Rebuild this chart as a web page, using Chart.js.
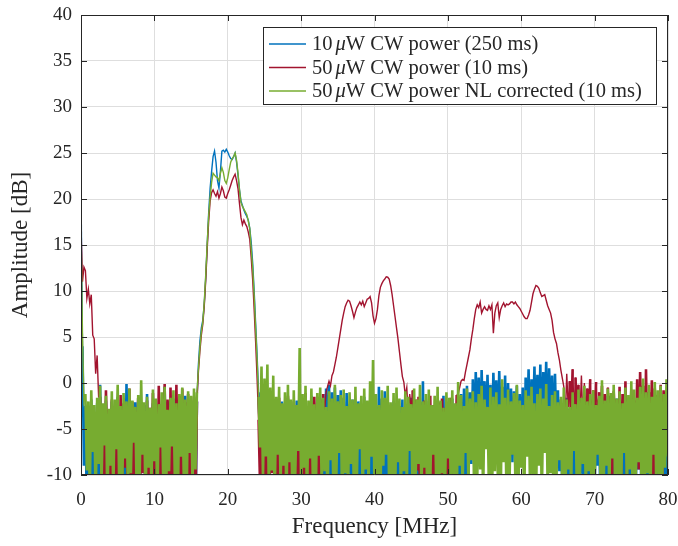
<!DOCTYPE html>
<html>
<head>
<meta charset="utf-8">
<title>Amplitude spectrum</title>
<script src="https://cdn.jsdelivr.net/npm/chart.js@4.4.1/dist/chart.umd.min.js"></script>
<style>
  html, body { margin: 0; padding: 0; background: #fff; }
  #wrap { width: 678px; height: 546px; }
</style>
</head>
<body>
<div id="wrap"><canvas id="spectrum" width="678" height="546"></canvas></div>
<script>
const STEP = 0.2; // MHz between samples

const xTicks = [0, 10, 20, 30, 40, 50, 60, 70, 80];
const yTicks = [-10, -5, 0, 5, 10, 15, 20, 25, 30, 35, 40];

const labels = [
  "10 μW CW power (250 ms)",
  "50 μW CW power (10 ms)",
  "50 μW CW power NL corrected (10 ms)"
];
const colors = ["#0072BD", "#A2142F", "#77AC30"];

// 10 uW, 250 ms
const blueStart = [21.2, 4.0, -9.0]; // 0.0 - 0.4
const blueNoiseA = [ // 0.6 - 15.8
  -2.5, -14.0, -3.0, -10.5, -1.8, -15.0, -3.2, -9.0, -2.2, -13.5,
  -0.2, -8.5, -2.8, -14.5, -1.9, -11.0, -3.4, -12.5, -2.0, -9.8,
  -2.6, -15.0, -1.5, -10.0, -3.1, -13.0, -2.3, -14.8, -0.1, -9.2,
  -2.7, -12.0, -3.5, -15.0, -2.1, -10.8, -1.6, -13.8, -2.9, -8.8,
  -2.4, -14.2, -1.2, -11.5, -3.0, -9.5, -2.2, -15.0, -1.8, -12.2,
  -3.3, -10.2, -2.5, -13.2, -0.4, -14.0, -2.0, -9.0, -3.1, -11.8,
  -1.7, -15.0, -2.6, -10.6, -2.1, -12.8, -3.0, -14.4, -1.4, -9.6,
  -2.3, -13.6, -2.8, -11.2, -1.9, -15.0, -2.0
];
const bluePeak = [ // 16.0 - 24.4
  2.0, 4.5, 6.0, 6.8, 8.6, 11.5, 15.0, 18.5, 21.2, 23.0,
  24.6, 25.2, 24.0, 22.0, 21.2, 23.0, 25.2, 25.3, 25.1, 25.4,
  25.1, 24.7, 24.4, 24.3, 24.6, 25.0, 24.0, 22.6, 21.0, 19.8,
  19.3, 18.8, 18.4, 18.1, 17.7, 16.8, 15.3, 13.0, 10.0, 6.5,
  3.0, -1.0, -6.0
];
const blueNoiseB = [ // 24.6 - 80.0
  -1.5, -13.0, -2.6, -10.0, -0.8, -14.5, -2.2, -9.5, -3.0, -12.5,
  -1.8, -15.0, -2.8, -11.0, -2.0, -13.8, -3.2, -10.5, -1.6, -14.0,
  -2.5, -9.0, -3.0, -12.8, -1.9, -15.0, -2.4, -10.8, -3.1, -13.2,
  -2.1, -9.8, -2.9, -14.6, -1.4, -11.6, -2.6, -15.0, -2.0, -10.2,
  -3.0, -12.6, -1.2, -14.2, -0.6, -9.4, -0.2, -13.6, -1.0, -11.2,
  -0.5, -15.0, -1.3, -10.6, -0.8, -12.4, -1.6, -14.8, -1.1, -9.8,
  -2.3, -13.4, -1.8, -11.8, -2.7, -15.0, -2.0, -10.0, -2.9, -12.2,
  -1.5, -14.4, -2.4, -9.6, -3.2, -13.0, -1.9, -15.0, -2.6, -11.4,
  -0.4, -12.0, -1.7, -14.0, -0.9, -10.4, -2.2, -13.8, -2.8, -9.2,
  -2.0, -15.0, -3.1, -11.6, -2.5, -12.8, -1.8, -14.6, -2.6, -10.8,
  -3.0, -13.2, -1.6, -9.8, -2.3, -15.0, -2.9, -12.4, -2.1, -11.0,
  0.2, -14.2, -2.7, -10.2, -1.9, -13.6, -3.0, -9.4, -2.4, -15.0,
  -2.0, -11.8, -2.8, -12.6, -1.4, -14.8, -2.5, -10.6, -3.2, -13.0,
  -1.7, -9.6, -2.6, -15.0, -2.2, -11.2, -1.2, -12.2, -0.6, -14.4,
  -0.3, -10.0, -1.0, -8.8, 0.4, -6.5, 1.2, -5.2, 0.6, -7.8,
  1.4, -4.8, 0.2, -6.8, 0.9, -5.6, -0.2, -8.2, 1.1, -4.4,
  0.3, -7.2, 1.3, -5.0, -0.4, -6.2, 0.8, -9.0, 0.0, -5.8,
  -0.6, -8.6, -0.9, -6.0, -0.3, -10.2, -1.2, -7.4, -0.5, -9.4,
  0.6, -5.4, 1.5, -7.0, 0.4, -4.6, 1.8, -6.6, 0.9, -5.2,
  2.0, -7.6, 1.2, -4.2, 2.3, -6.4, 1.6, -5.0, 0.8, -8.0,
  1.0, -6.2, -0.8, -9.6, -1.8, -12.4, -2.4, -14.0, -1.6, -10.8,
  -2.8, -13.4, -2.2, -11.4, -3.0, -15.0, -1.9, -9.8, -2.6, -12.8,
  -1.5, -14.6, -2.7, -10.4, -2.0, -13.0, -3.1, -11.8, -2.3, -9.0,
  -1.8, -15.0, -2.6, -12.0, -2.9, -10.6, -1.4, -14.2, -2.2, -13.6,
  -2.8, -9.6, -1.7, -12.6, -2.4, -15.0, -3.0, -11.0, -2.0, -13.8,
  -2.5, -10.2, -1.6, -14.4, -2.9, -12.2, -2.1, -9.4, -1.3, -15.0,
  -2.6, -11.6, -2.0, -13.2, -2.8, -10.0, -1.5, -14.8, -2.4, -12.4,
  -1.9, -9.8, -2.7, -13.6, -2.2, -11.2, -1.0, -14.0
];

// 50 uW, 10 ms
const redStart = [17.0, 11.0, 12.6, 12.2, 9.2, 10.2, 8.6, 9.6, 5.2, 4.8, 1.0, 3.0, -1.5]; // 0.0 - 2.4
const redNoiseA = [ // 2.6 - 15.8
  -1.5, -11.0, -2.4, -14.5, -0.8, -9.5, -2.9, -13.0, -1.8, -15.0,
  -2.6, -10.5, -3.2, -12.5, -1.3, -14.0, -2.2, -9.2, -2.8, -15.0,
  -0.6, -11.8, -2.0, -13.5, -3.0, -10.2, -1.6, -14.8, -2.5, -9.8,
  -3.3, -12.8, -1.9, -15.0, -2.7, -11.2, -1.1, -13.8, -2.3, -10.8,
  -0.3, -14.2, -2.6, -9.4, -0.1, -12.0, -1.8, -15.0, -0.5, -11.5,
  -2.4, -13.2, -0.2, -10.0, -1.4, -14.6, -0.6, -12.4, -2.1, -9.6,
  -1.2, -15.0, -2.5, -11.6, -1.5, -13.4, -2.0
];
const redPeak = [ // 16.0 - 24.4
  1.2, 3.4, 5.2, 6.4, 8.4, 11.2, 14.6, 17.6, 19.8, 20.7,
  21.0, 20.6, 20.3, 20.8, 20.1, 20.6, 21.3, 20.9, 20.2, 20.1,
  20.6, 21.0, 21.5, 22.0, 22.4, 22.7, 22.0, 21.1, 19.5, 18.0,
  17.2, 17.7, 17.3, 17.0, 16.4, 15.6, 13.6, 11.2, 8.0, 4.5,
  0.5, -4.0, -11.0
];
const redNoiseB = [ // 24.6 - 33.2
  -2.2, -14.0, -1.8, -11.5, -2.8, -15.0, -1.2, -9.8, -2.5, -12.6,
  -3.0, -13.8, -1.6, -10.4, -2.3, -15.0, -2.9, -11.8, -1.4, -14.2,
  -2.6, -9.6, -2.0, -13.0, -3.1, -12.2, -1.9, -15.0, -2.4, -10.8,
  -1.1, -14.6, -2.7, -11.0, -2.0, -13.4, -1.5, -9.2, -2.2, -12.0,
  -1.8, -10.6, -1.2, -3.0
];
const redHump1 = [ // 33.4 - 44.2
  -1.0, -0.4, 0.2, -0.3, 0.8, 1.2, 2.0, 2.8, 3.8, 4.8,
  5.8, 6.8, 7.6, 8.3, 8.7, 9.0, 8.9, 8.4, 7.8, 7.1,
  7.7, 8.2, 8.5, 8.8, 8.5, 8.9, 8.3, 8.7, 9.1, 9.2,
  9.4, 8.7, 7.3, 6.5, 7.0, 8.0, 9.5, 10.4, 10.8, 11.1,
  11.3, 11.55, 11.5, 11.3, 10.6, 9.6, 8.4, 7.2, 6.0, 4.8,
  3.4, 2.0, 0.7, 0.1, -1.4
];
const redNoiseC = [ // 44.4 - 51.4
  -0.5, -3.5, -1.2, -2.8, -0.8, -4.2, -1.8, -9.5, -1.5, -12.0,
  -2.6, -14.5, -1.9, -10.8, -2.8, -13.2, -1.4, -15.0, -2.4, -11.4,
  -3.0, -9.8, -2.1, -14.0, -1.7, -12.6, -2.7, -10.2, -2.2, -13.8,
  -1.6, -11.0, -2.9, -9.4, -1.3, -1.2
];
const redHump2 = [ // 51.6 - 65.6
  -0.5, 0.2, 0.4, 0.3, 1.2, 2.0, 2.8, 3.6, 4.8, 5.8,
  7.0, 8.0, 8.5, 8.2, 8.8, 7.6, 8.0, 8.3, 8.0, 7.9,
  8.4, 8.0, 8.5, 5.4, 7.6, 8.4, 8.7, 7.1, 8.0, 8.4,
  8.7, 8.3, 8.6, 8.5, 8.6, 8.8, 8.8, 8.6, 8.8, 8.5,
  8.3, 8.1, 7.8, 7.5, 7.2, 7.0, 7.0, 7.4, 7.9, 8.8,
  9.7, 10.2, 10.6, 10.5, 10.3, 9.8, 9.4, 9.5, 9.6, 9.0,
  8.4, 8.0, 7.6, 6.8, 5.5, 4.8, 4.3, 3.3, 2.5, 1.4,
  0.5
];
const redNoiseD = [ // 65.8 - 80.0
  -0.4, -3.8, 1.0, -2.6, 0.2, -4.4, 1.5, -3.0, 0.6, -5.2,
  -0.2, -3.4, 0.8, -4.0, 0.0, -2.8, -0.6, -4.8, 0.4, -3.6,
  -0.8, -5.6, 0.1, -3.2, -1.0, -4.6, -0.3, -9.0, -1.2, -3.8,
  -0.5, -6.4, -1.4, -11.0, -0.9, -5.0, -1.8, -8.6, -0.4, -12.4,
  -1.2, -7.0, 0.2, -10.2, -1.6, -5.8, -0.7, -13.0, -1.9, -6.6,
  0.4, -9.4, 1.2, -4.8, -0.3, -11.6, 1.5, -7.6, -1.0, -5.4,
  0.3, -12.0, -0.6, -6.2, -1.3, -9.8, -0.2, -14.0, -0.8, -5.0,
  -1.1, -7.2
];

// 50 uW, NL corrected, 10 ms
const greenStart = [16.6, 5.5, -2.0]; // 0.0 - 0.4
const greenNoiseA = [ // 0.6 - 15.8
  -1.2, -9.5, -2.0, -12.0, -0.8, -7.5, -2.4, -13.0, -1.6, -8.8,
  -0.3, -11.2, -2.2, -6.8, -1.4, -14.0, -2.8, -9.0, -0.9, -12.5,
  -1.8, -7.2, -0.2, -10.8, -2.5, -13.5, -1.1, -8.2, -2.0, -11.8,
  -0.6, -9.8, -1.9, -6.5, -2.6, -12.8, -1.3, -10.2, 0.3, -7.8,
  -2.1, -13.8, -1.5, -9.2, -2.7, -11.5, -0.7, -8.5, -1.7, -14.2,
  -2.3, -7.0, -1.0, -10.5, -0.4, -12.2, -2.9, -9.6, -1.6, -6.9,
  -0.8, -11.0, -2.2, -13.2, -1.2, -8.0, -0.5, -10.0, -1.8, -12.6,
  -0.9, -7.6, -1.4, -11.4, -0.6, -9.4, -1.0
];
const greenPeak = [ // 16.0 - 24.4
  1.5, 3.8, 5.6, 6.6, 8.8, 11.8, 15.2, 18.2, 20.2, 21.8,
  22.8, 22.6, 22.4, 22.3, 22.0, 22.8, 23.4, 22.9, 22.0, 21.7,
  22.3, 23.2, 24.0, 24.4, 24.6, 25.0, 24.2, 22.8, 21.0, 19.6,
  19.2, 18.9, 18.6, 18.3, 17.6, 16.8, 14.5, 12.5, 9.5, 6.0,
  2.5, -1.5, -7.0
];
const greenNoiseB = [ // 24.6 - 80.0
  1.8, -10.5, 0.5, -8.0, 2.0, -12.0, -0.5, -9.5, 0.8, -13.0,
  -1.5, -7.8, -0.4, -11.5, -2.2, -9.0, -1.0, -14.0, -0.2, -8.6,
  -1.8, -12.2, -0.8, -10.0, -2.4, -7.4, 3.8, -11.8, -1.2, -9.2,
  -0.3, -13.5, -1.9, -8.2, -0.6, -10.8, -2.3, -12.6, -1.1, -7.9,
  -0.5, -11.2, -1.6, -9.6, -2.6, -13.8, -0.9, -8.4, -1.7, -12.0,
  -0.2, -10.2, -2.0, -7.6, -1.3, -14.2, -0.7, -9.8, -2.5, -11.6,
  -1.0, -8.8, -1.8, -12.8, -0.4, -10.4, -2.2, -7.2, -1.4, -13.2,
  -0.6, -9.4, -1.9, -11.0, 0.2, -8.0, 2.5, -12.4, -1.2, -10.6,
  -2.4, -13.6, -0.8, -9.0, -1.6, -7.8, -0.3, -11.8, -2.1, -10.0,
  -1.1, -14.0, -0.5, -8.6, -1.7, -12.2, -2.6, -9.6, -0.9, -11.4,
  -1.5, -7.4, -2.3, -13.0, -0.6, -10.8, -1.8, -8.8, -0.2, -12.6,
  -2.0, -9.2, -1.2, -14.4, -0.7, -11.0, -2.4, -7.8, -1.4, -10.4,
  -0.4, -12.8, -1.9, -9.8, -2.7, -13.4, -1.0, -8.2, -1.6, -11.6,
  -0.8, -10.2, -2.2, -14.2, 0.1, -9.0, -1.3, -12.0, -2.5, -7.6,
  -0.6, -11.2, -1.7, -8.4, -0.9, -13.6, -2.1, -10.6, -1.2, -9.4,
  -0.3, -12.4, -1.8, -7.2, -2.6, -11.8, -0.5, -14.0, -1.5, -9.6,
  -1.0, -10.0, -2.3, -12.6, 0.4, -8.6, -1.6, -13.2, -0.7, -11.0,
  -2.0, -7.8, -1.1, -10.8, -0.2, -12.2, -1.9, -9.2, -2.4, -13.8,
  -0.8, -8.0, -1.4, -11.4, -0.4, -10.4, -2.2, -14.4, -1.2, -9.0,
  -0.6, -12.8, -1.7, -7.6, -0.1, -11.6, -2.5, -9.8, -1.3, -13.0,
  -0.9, -10.6, -2.1, -8.4, -1.5, -12.4, -0.5, -14.2, -1.8, -9.4,
  -2.6, -11.8, -1.0, -7.4, -2.3, -13.4, -0.7, -10.2, -1.6, -8.8,
  -0.3, -12.0, -2.0, -9.6, -1.2, -14.0, -0.8, -11.2, -2.4, -7.8,
  -1.4, -10.8, 0.3, -13.6, -1.9, -9.0, -0.6, -12.6, -1.1, -8.2,
  -0.2, -11.4, -1.7, -10.0, -0.9, -13.2, -2.2, -7.6, -0.5, -12.2,
  -1.3, -9.4, 0.2, -14.4, -0.7, -10.6, -1.6, -8.6, -0.4, -11.8,
  0.5, -12.8, -1.0, -9.8, -0.2, -13.0, -1.5, -7.8, 0.1, -11.0,
  -0.8, -10.4, -0.3, -12.4, -1.2, -9.2, 0.4, -8.0
];

function segment(fromMHz, values) {
  return values.map((y, k) => ({ x: +(fromMHz + k * STEP).toFixed(1), y }));
}

const blueData = [
  ...segment(0, blueStart),
  ...segment(0.6, blueNoiseA),
  ...segment(16.0, bluePeak),
  ...segment(24.6, blueNoiseB)
];

const redData = [
  ...segment(0, redStart),
  ...segment(2.6, redNoiseA),
  ...segment(16.0, redPeak),
  ...segment(24.6, redNoiseB),
  ...segment(33.4, redHump1),
  ...segment(44.4, redNoiseC),
  ...segment(51.6, redHump2),
  ...segment(65.8, redNoiseD)
];

const greenData = [
  ...segment(0, greenStart),
  ...segment(0.6, greenNoiseA),
  ...segment(16.0, greenPeak),
  ...segment(24.6, greenNoiseB)
];

const SERIF = '"Liberation Serif", "Times New Roman", serif';
const TEXT = "#262626";

// box with inward ticks on all four sides, drawn over the traces
const framePlugin = {
  id: "frame",
  afterDatasetsDraw(chart) {
    const { ctx, chartArea: a, scales } = chart;
    const tick = 6;

    ctx.save();
    ctx.strokeStyle = TEXT;
    ctx.lineWidth = 1;
    ctx.beginPath();
    ctx.rect(a.left + 0.5, a.top + 0.5, a.right - a.left - 1, a.bottom - a.top - 1);

    xTicks.forEach(v => {
      const px = Math.round(scales.x.getPixelForValue(v)) + 0.5;
      ctx.moveTo(px, a.bottom);
      ctx.lineTo(px, a.bottom - tick);
      ctx.moveTo(px, a.top);
      ctx.lineTo(px, a.top + tick);
    });

    yTicks.forEach(v => {
      const py = Math.round(scales.y.getPixelForValue(v)) + 0.5;
      ctx.moveTo(a.left, py);
      ctx.lineTo(a.left + tick, py);
      ctx.moveTo(a.right, py);
      ctx.lineTo(a.right - tick, py);
    });

    ctx.stroke();
    ctx.restore();
  }
};

// legend box inside the plot, top right, with an italic mu
const legendPlugin = {
  id: "insideLegend",
  afterDraw(chart) {
    const { ctx, chartArea: a } = chart;
    const box = { right: a.right - 11, top: a.top + 12, width: 394, height: 78 };
    const left = box.right - box.width;
    const upright = `20.5px ${SERIF}`;
    const italic = `italic 20.5px ${SERIF}`;

    ctx.save();
    ctx.fillStyle = "#ffffff";
    ctx.fillRect(left, box.top, box.width, box.height);
    ctx.strokeStyle = TEXT;
    ctx.lineWidth = 1;
    ctx.strokeRect(left + 0.5, box.top + 0.5, box.width - 1, box.height - 1);

    ctx.textBaseline = "middle";
    chart.data.datasets.forEach((ds, i) => {
      const y = box.top + 17 + i * 23.5;

      ctx.strokeStyle = ds.borderColor;
      ctx.lineWidth = 1.4;
      ctx.beginPath();
      ctx.moveTo(left + 6, y);
      ctx.lineTo(left + 43, y);
      ctx.stroke();

      const [before, after] = ds.label.split("μ");
      let x = left + 49;
      ctx.fillStyle = TEXT;
      ctx.font = upright;
      ctx.fillText(before.trim(), x, y + 1);
      x += ctx.measureText(before.trim()).width + 3;
      ctx.font = italic;
      ctx.fillText("μ", x, y + 1);
      x += ctx.measureText("μ").width;
      ctx.font = upright;
      ctx.fillText(after, x, y + 1);
    });
    ctx.restore();
  }
};

// keep the plot box where it is in the original figure
function pinX(scale) {
  scale.height = 71;
  scale.paddingLeft = 0;
  scale.paddingRight = 0;
}

function pinY(scale) {
  scale.width = 81;
  scale.paddingTop = 0;
  scale.paddingBottom = 0;
}

// the noise floor is a dense zigzag: draw those stretches thicker so it reads as a solid band
function noiseWidth(ctx) {
  return Math.min(ctx.p0.parsed.y, ctx.p1.parsed.y) < -4 ? 2.6 : 1.4;
}

const traces = [blueData, redData, greenData];

new Chart(document.getElementById("spectrum"), {
  type: "line",
  data: {
    datasets: traces.map((data, i) => ({
      label: labels[i],
      data,
      borderColor: colors[i],
      backgroundColor: colors[i],
      borderWidth: 1.4,
      segment: { borderWidth: noiseWidth },
      pointRadius: 0,
      tension: 0,
      order: traces.length - 1 - i
    }))
  },
  options: {
    responsive: false,
    animation: false,
    events: [],
    layout: { padding: { top: 15, right: 10, left: 0, bottom: 0 } },
    plugins: {
      legend: { display: false },
      tooltip: { enabled: false }
    },
    scales: {
      x: {
        type: "linear",
        min: 0,
        max: 80,
        afterBuildTicks: scale => { scale.ticks = xTicks.map(value => ({ value })); },
        afterFit: pinX,
        grid: { color: "#dedede", drawTicks: false },
        border: { display: false },
        ticks: { padding: 14, color: TEXT, font: { family: SERIF, size: 19 }, maxRotation: 0 },
        title: {
          display: true,
          text: "Frequency [MHz]",
          color: TEXT,
          font: { family: SERIF, size: 23 },
          padding: { top: 0, bottom: 5 }
        }
      },
      y: {
        min: -10,
        max: 40,
        afterBuildTicks: scale => { scale.ticks = yTicks.map(value => ({ value })); },
        afterFit: pinY,
        grid: { color: "#dedede", drawTicks: false },
        border: { display: false },
        ticks: { padding: 9, color: TEXT, font: { family: SERIF, size: 19 } },
        title: {
          display: true,
          text: "Amplitude [dB]",
          color: TEXT,
          font: { family: SERIF, size: 23 },
          padding: { top: 7, bottom: 0 }
        }
      }
    }
  },
  plugins: [framePlugin, legendPlugin]
});
</script>
</body>
</html>
